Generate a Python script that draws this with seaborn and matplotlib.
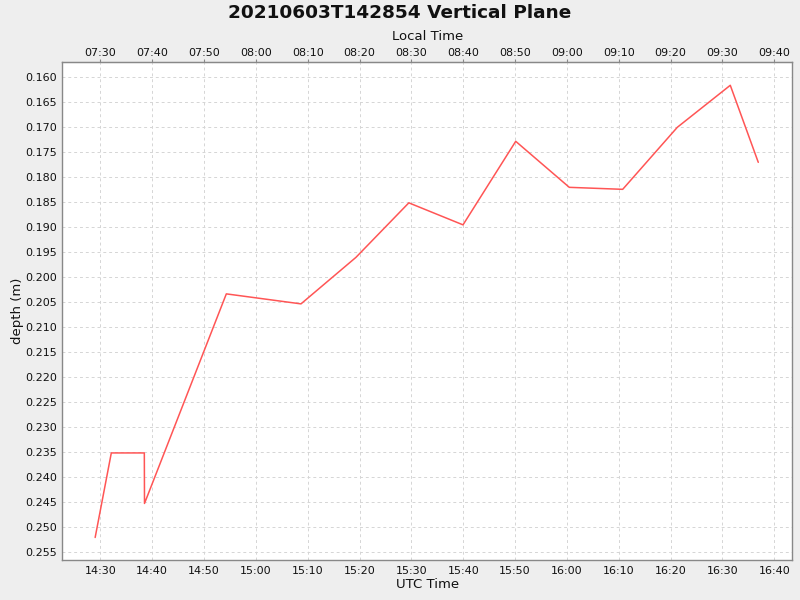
import numpy as np
import pandas as pd
import matplotlib
matplotlib.use("Agg")
import matplotlib.pyplot as plt
import matplotlib.dates as mdates
import seaborn as sns

# ---- data ----
utc_times = ["14:29:00", "14:32:07", "14:38:29", "14:38:31", "14:54:18",
             "15:08:42", "15:19:18", "15:29:30", "15:39:57", "15:50:07",
             "16:00:27", "16:10:45", "16:21:17", "16:31:30", "16:36:54"]
depths = [0.2520, 0.2351, 0.2351, 0.2452, 0.2033,
          0.2053, 0.1960, 0.1851, 0.1895, 0.1728,
          0.1820, 0.1824, 0.1700, 0.1616, 0.1770]
date_str = "2021-06-03"
local_offset_hours = -7
title = "20210603T142854 Vertical Plane"
y_ticks = [0.160, 0.165, 0.170, 0.175, 0.180, 0.185, 0.190, 0.195, 0.200, 0.205,
           0.210, 0.215, 0.220, 0.225, 0.230, 0.235, 0.240, 0.245, 0.250, 0.255]

df = pd.DataFrame({
    "time": pd.to_datetime([f"{date_str} {t}" for t in utc_times]),
    "depth": depths,
})

sns.set_style("white")
plt.rcParams["font.family"] = ["DejaVu Sans"]
txt = "#111111"

fig = plt.figure(figsize=(8, 6), dpi=100, facecolor="#EEEEEE")
ax_rect = [0.0779, 0.0667, 0.9125, 0.8295]
ax = fig.add_axes(ax_rect)
ax.set_facecolor("white")
ax.set_axisbelow(True)

sns.lineplot(data=df, x="time", y="depth", ax=ax, sort=False, estimator=None,
             color="#FF5555", linewidth=1.1, zorder=3)

ax.set_xlim(pd.Timestamp(f"{date_str} 14:22:40"), pd.Timestamp(f"{date_str} 16:43:28"))
ax.set_ylim(0.2565, 0.1570)
ax.set_yticks(y_ticks)
ax.yaxis.set_major_formatter(matplotlib.ticker.FormatStrFormatter("%.3f"))

ax.xaxis.set_major_locator(mdates.MinuteLocator(byminute=range(0, 60, 10)))
ax.xaxis.set_major_formatter(mdates.DateFormatter("%H:%M"))

ax.grid(True, color="#D5D5D5", linestyle=(0, (3, 3)), linewidth=0.7)
for s in ax.spines.values():
    s.set_color("#888888")
    s.set_linewidth(1.0)
ax.tick_params(axis="both", direction="out", length=2, width=0.8, color="#888888",
               labelsize=8, pad=2, labelcolor=txt)

ax.set_xlabel("UTC Time", fontsize=9.5, labelpad=2, color=txt)
ax.set_ylabel("depth (m)", fontsize=9.5, color=txt)
ax.yaxis.set_label_coords(-0.0525, 0.5)

off = local_offset_hours / 24.0
sec = ax.secondary_xaxis("top", functions=(lambda x: x + off, lambda x: x - off))
sec.xaxis.set_major_locator(mdates.MinuteLocator(byminute=range(0, 60, 10)))
sec.xaxis.set_major_formatter(mdates.DateFormatter("%H:%M"))
sec.tick_params(axis="x", direction="out", length=2, width=0.8, color="#888888",
                labelsize=8, pad=1, labelcolor=txt)
sec.spines["top"].set_color("#888888")
sec.set_xlabel("Local Time", fontsize=9.5, color=txt)
sec.xaxis.set_label_coords(ax_rect[0] + ax_rect[2] / 2, 1 - 36.7 / 600,
                           transform=fig.transFigure)
sec.xaxis.label.set_verticalalignment("center")

fig.text(0.5, 0.993, title, ha="center", va="top", fontsize=13.3,
         fontweight="bold", color=txt)

fig.savefig("out.png", dpi=100, facecolor=fig.get_facecolor())
